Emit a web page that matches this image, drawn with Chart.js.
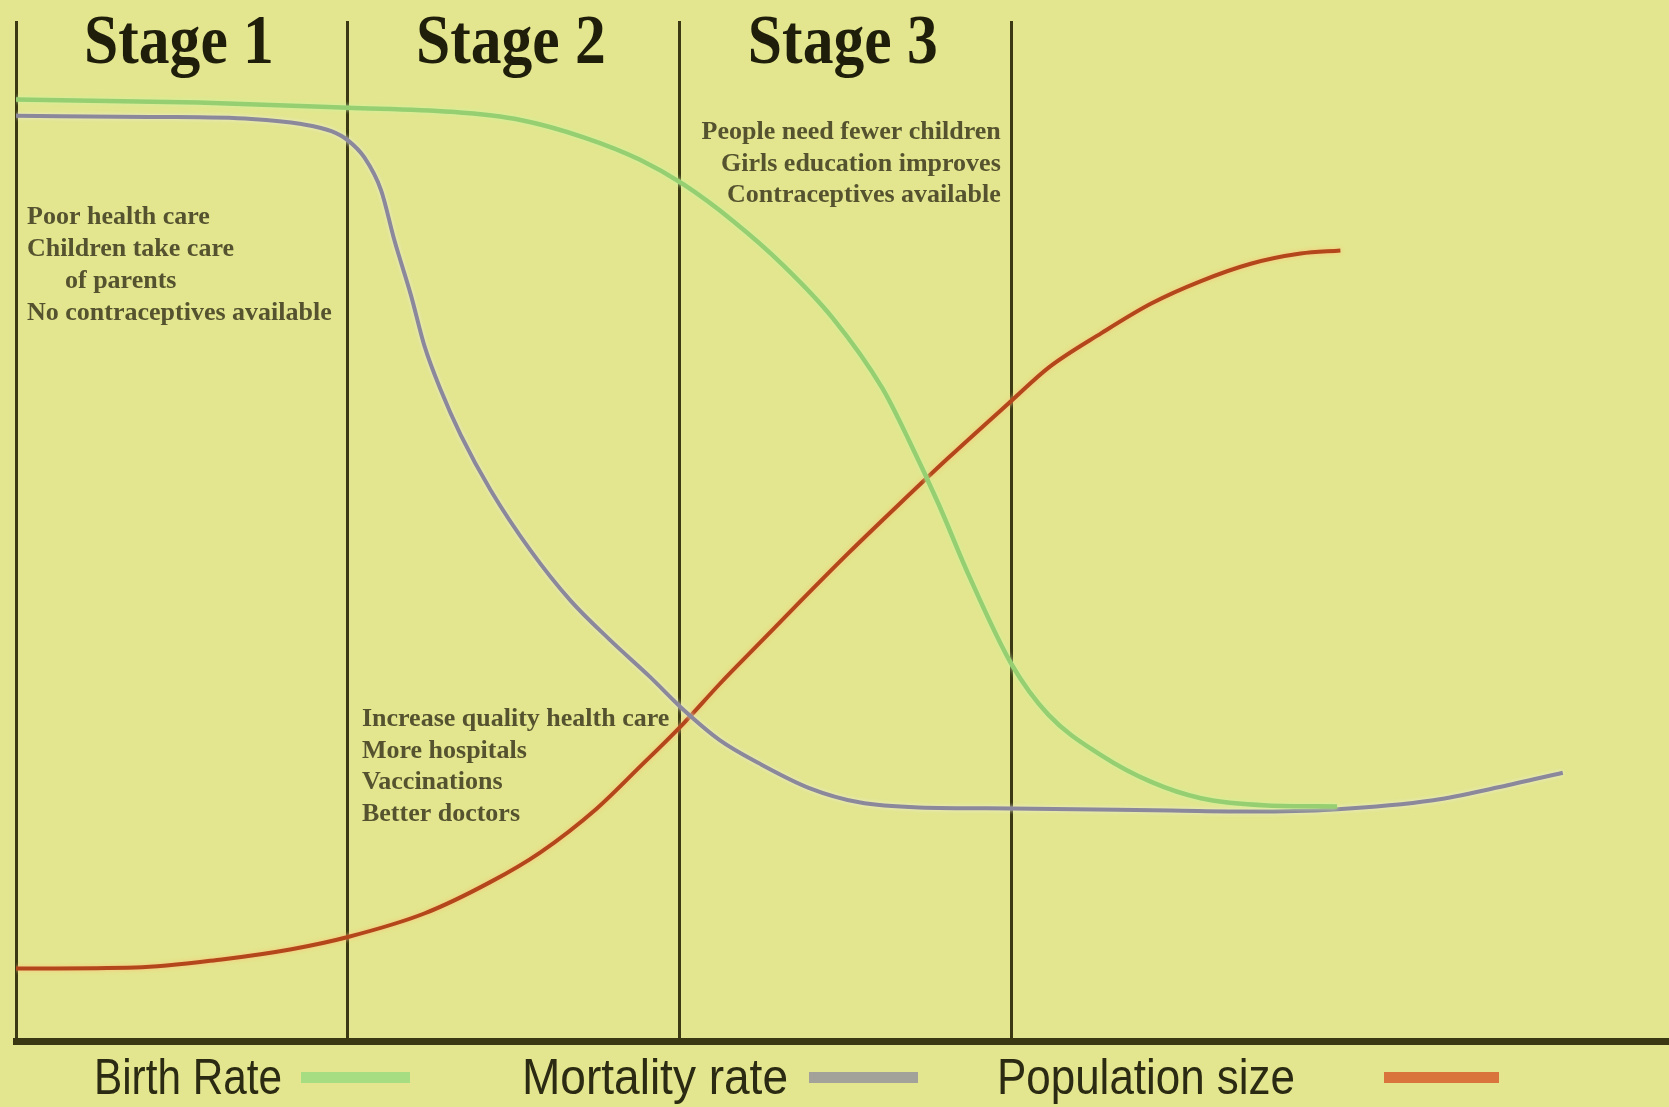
<!DOCTYPE html>
<html>
<head>
<meta charset="utf-8">
<title>Demographic transition</title>
<script src="https://cdn.jsdelivr.net/npm/chart.js@4.4.1/dist/chart.umd.min.js"></script>
<style>
  html, body { margin: 0; padding: 0; background: #e3e68e; }
  .chart-con { width: 1669px; height: 1107px; position: relative; }
</style>
</head>
<body>
<div class="chart-con"><canvas id="stage-chart"></canvas></div>
<script>
// stages (x is in "stage" units, y is a 0-100 relative level)
const stageNames = ['Stage 1', 'Stage 2', 'Stage 3']
const stageBounds = [0, 1, 2, 3]

const stage1Notes = ['Poor health care', 'Children take care', '\tof parents', 'No contraceptives available']
const stage2Notes = ['Increase quality health care', 'More hospitals', 'Vaccinations', 'Better doctors']
const stage3Notes = ['People need fewer children', 'Girls education improves', 'Contraceptives available']

const birthX = [0, 0.55, 1.0, 1.31, 1.52, 1.71, 1.88, 2.01, 2.16, 2.31, 2.46, 2.61, 2.69, 2.78, 2.87, 3.0, 3.11, 3.27, 3.42, 3.57, 3.77, 3.98]
const birthY = [92.3, 92.0, 91.5, 91.1, 90.3, 88.6, 86.4, 84.0, 80.4, 76.1, 70.9, 64.0, 58.9, 52.6, 45.7, 36.9, 32.0, 28.0, 25.4, 23.8, 23.1, 23.0]

const mortalityX = [0, 0.40, 0.71, 0.86, 0.95, 1.0, 1.05, 1.10, 1.14, 1.19, 1.23, 1.28, 1.34, 1.43, 1.55, 1.67, 1.79, 1.91, 2.01, 2.12, 2.24, 2.39, 2.54, 2.72, 3.0, 3.48, 3.72, 3.97, 4.27, 4.47, 4.66]
const mortalityY = [90.7, 90.6, 90.4, 89.9, 89.2, 88.3, 86.6, 83.4, 78.5, 73.1, 68.2, 63.8, 59.4, 54.0, 48.1, 43.2, 39.3, 35.7, 32.5, 29.5, 27.2, 24.8, 23.4, 22.9, 22.8, 22.6, 22.5, 22.7, 23.6, 24.9, 26.3]

const populationX = [0, 0.36, 0.62, 0.83, 1.0, 1.23, 1.43, 1.58, 1.75, 1.88, 2.01, 2.12, 2.24, 2.36, 2.51, 2.66, 2.81, 3.0, 3.11, 3.27, 3.42, 3.57, 3.72, 3.87, 3.99]
const populationY = [7.1, 7.2, 8.0, 9.0, 10.2, 12.5, 15.6, 18.5, 22.8, 26.9, 31.1, 35.0, 39.0, 43.0, 47.9, 52.6, 57.2, 62.8, 66.0, 69.4, 72.3, 74.5, 76.2, 77.2, 77.5]

const seriesLabels = ['Birth Rate', 'Mortality rate', 'Population size']
const lineColors = ['#95cf72', '#8a889a', '#b3461a']
const haloColors = ['rgba(205,245,160,0.9)', 'rgba(235,235,215,0.9)', 'rgba(255,190,120,0.9)']
const swatchColors = ['#a6dc82', '#a3a29a', '#d8743c']

function toPoints(xs, ys){
  return xs.map((v, i) => ({ x: v, y: ys[i] }))
}

function drawSquished(ctx, text, x, y, sx, align){
  ctx.save()
  ctx.translate(x, y)
  ctx.scale(sx, 1)
  ctx.textAlign = align
  ctx.fillText(text, 0, 0)
  ctx.restore()
}

const lineHalo = {
  id: 'lineHalo',
  beforeDatasetDraw(chart, args) {
    const ctx = chart.ctx
    ctx.save()
    ctx.shadowColor = haloColors[args.index]
    ctx.shadowBlur = 4
  },
  afterDatasetDraw(chart) {
    chart.ctx.restore()
  }
}

const stageText = {
  id: 'stageText',
  afterDraw(chart) {
    const { ctx, chartArea: { top }, scales: { x } } = chart
    ctx.save()
    ctx.textBaseline = 'alphabetic'

    // stage titles
    ctx.fillStyle = '#1f1e0b'
    ctx.font = 'bold 70px "Liberation Serif"'
    stageNames.forEach((name, i) => {
      const cx = (x.getPixelForValue(stageBounds[i]) + x.getPixelForValue(stageBounds[i + 1])) / 2
      drawSquished(ctx, name, cx - 3, top + 42, 0.88, 'center')
    })

    // notes
    ctx.fillStyle = '#55532f'
    ctx.font = 'bold 26px "Liberation Serif"'
    ctx.textAlign = 'left'
    stage1Notes.forEach((line, i) => {
      let left = x.getPixelForValue(stageBounds[0]) + 11
      if(line.startsWith('\t')) left += 38
      ctx.fillText(line.trim(), left, 224 + i * 32)
    })
    stage2Notes.forEach((line, i) => {
      ctx.fillText(line, x.getPixelForValue(stageBounds[1]) + 14, 726 + i * 31.5)
    })
    ctx.textAlign = 'right'
    stage3Notes.forEach((line, i) => {
      ctx.fillText(line, x.getPixelForValue(stageBounds[3]) - 11, 139 + i * 31.5)
    })

    // legend under the axis
    const textLeft = [94, 522, 997]
    const textWidth = [188, 266, 298]
    const swatch = [[301, 410], [809, 918], [1384, 1499]]
    ctx.font = '50px "Liberation Sans"'
    ctx.fillStyle = '#2b2a12'
    seriesLabels.forEach((label, i) => {
      const sx = textWidth[i] / ctx.measureText(label).width
      drawSquished(ctx, label, textLeft[i], 1094, sx, 'left')
      ctx.fillStyle = swatchColors[i]
      ctx.fillRect(swatch[i][0], 1072, swatch[i][1] - swatch[i][0], 11)
      ctx.fillStyle = '#2b2a12'
    })
    ctx.restore()
  }
}

const seriesX = [birthX, mortalityX, populationX]
const seriesY = [birthY, mortalityY, populationY]

const data = {
  datasets: seriesLabels.map((label, i) => ({
    label: label,
    data: toPoints(seriesX[i], seriesY[i]),
    borderColor: lineColors[i],
    borderWidth: i === 0 ? 4.5 : 4,
    pointRadius: 0,
    fill: false,
    cubicInterpolationMode: 'monotone',
  }))
}

const config = {
  type: 'line',
  data: data,
  options: {
    responsive: true,
    maintainAspectRatio: false,
    animation: false,
    layout: {
      padding: { left: 16, right: 0, top: 21, bottom: 66 }
    },
    scales: {
      x: {
        type: 'linear',
        min: 0,
        max: 4.98,
        afterBuildTicks: (scale) => {
          scale.ticks = stageBounds.map(v => ({ value: v }))
        },
        ticks: { display: false },
        grid: {
          color: '#3b3914',
          lineWidth: 3,
          drawTicks: false,
        },
        border: {
          display: true,
          color: '#3a3812',
          width: 7,
        }
      },
      y: {
        display: false,
        min: 0,
        max: 100,
      }
    },
    plugins: {
      legend: { display: false },
      tooltip: { enabled: false },
    }
  },
  plugins: [lineHalo, stageText],
}

const stageChart = new Chart(
  document.getElementById('stage-chart'),
  config
)
</script>
</body>
</html>
